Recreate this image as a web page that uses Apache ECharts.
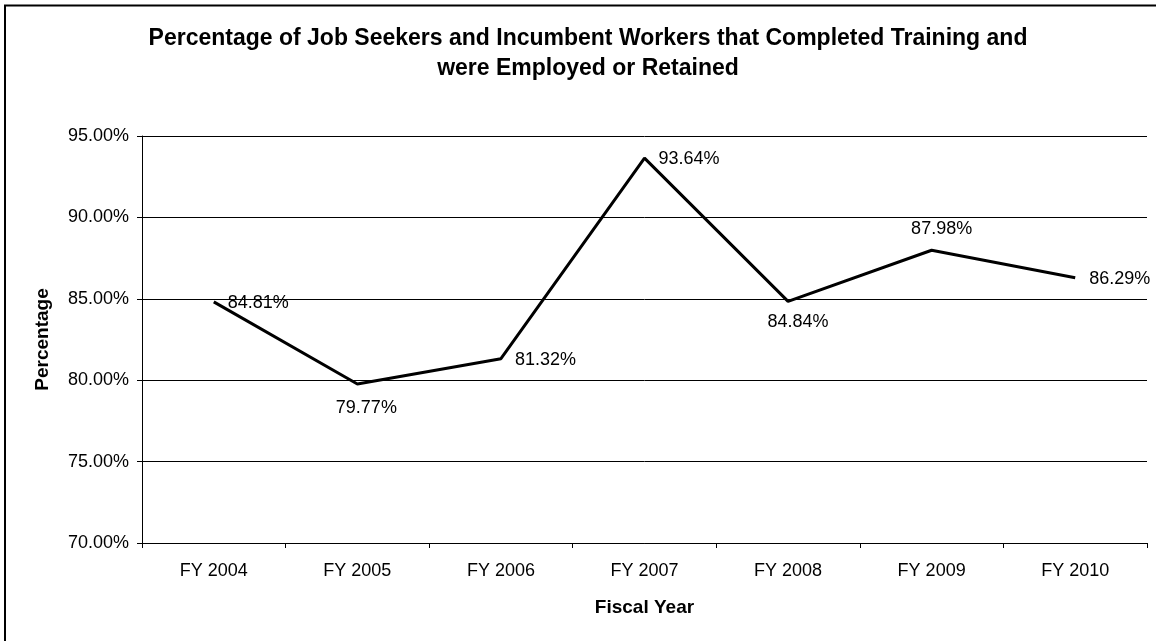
<!DOCTYPE html>
<html>
<head>
<meta charset="utf-8">
<script src="https://cdn.jsdelivr.net/npm/echarts@6/dist/echarts.min.js"></script>
<style>
html,body{margin:0;padding:0;background:#fff;}
#chart{width:1156px;height:641px;}
</style>
</head>
<body>
<div id="chart"></div>
<script>
const categories = ['FY 2004','FY 2005','FY 2006','FY 2007','FY 2008','FY 2009','FY 2010'];
const values = [84.81, 79.77, 81.32, 93.64, 84.84, 87.98, 86.29];
const labelPositions = ['right','bottom','right','right','bottom','top','right'];
const yTicks = {min: 70, max: 95, interval: 5};

const FONT = 'Liberation Sans, Arial, sans-serif';
const chart = echarts.init(document.getElementById('chart'));

const labelOffsets = {
  right: {distance: 14, offset: [0, 1]},
  bottom: {distance: 12, offset: [10, 0]},
  top: {distance: 12, offset: [10, 0]}
};

const data = values.map((v, i) => {
  const p = labelPositions[i];
  return {
    value: v,
    label: {position: p, distance: labelOffsets[p].distance, offset: labelOffsets[p].offset.slice()}
  };
});
data[1].label.offset = [9, 3];

chart.setOption({
  animation: false,
  backgroundColor: '#fff',
  title: {
    text: 'Percentage of Job Seekers and Incumbent Workers that Completed Training and\nwere Employed or Retained',
    left: 583,
    top: 19,
    textAlign: 'center',
    textStyle: {fontFamily: FONT, fontSize: 23, fontWeight: 'bold', color: '#000', lineHeight: 30}
  },
  graphic: [
    {type: 'line', shape: {x1: 4, y1: 5.5, x2: 1156, y2: 5.5}, style: {stroke: '#000', lineWidth: 2}},
    {type: 'line', shape: {x1: 5, y1: 5, x2: 5, y2: 641}, style: {stroke: '#000', lineWidth: 2}}
  ],
  grid: {left: 142, right: 9, top: 136, bottom: 98},
  xAxis: {
    type: 'category',
    data: categories,
    boundaryGap: true,
    name: 'Fiscal Year',
    nameLocation: 'middle',
    nameGap: 55,
    nameTextStyle: {fontFamily: FONT, fontSize: 19, fontWeight: 'bold', color: '#000'},
    axisLine: {lineStyle: {color: '#000', width: 1}},
    axisTick: {show: true, length: 5, lineStyle: {color: '#000'}},
    axisLabel: {fontFamily: FONT, fontSize: 18, color: '#000', margin: 19}
  },
  yAxis: {
    type: 'value',
    min: yTicks.min,
    max: yTicks.max,
    interval: yTicks.interval,
    name: 'Percentage',
    nameLocation: 'middle',
    nameGap: 90,
    nameTextStyle: {fontFamily: FONT, fontSize: 19, fontWeight: 'bold', color: '#000'},
    axisLine: {show: true, lineStyle: {color: '#000', width: 1}},
    axisTick: {show: true, length: 5, lineStyle: {color: '#000'}},
    axisLabel: {fontFamily: FONT, fontSize: 18, color: '#000', margin: 13,
      formatter: v => v.toFixed(2) + '%'},
    splitLine: {show: true, lineStyle: {color: '#000', width: 1}}
  },
  series: [{
    type: 'line',
    data: data,
    showSymbol: true,
    symbol: 'circle',
    symbolSize: 0,
    itemStyle: {color: 'rgba(0,0,0,0)'},
    lineStyle: {color: '#000', width: 3},
    label: {
      show: true,
      fontFamily: FONT, fontSize: 18, color: '#000',
      formatter: p => p.value.toFixed(2) + '%'
    }
  }]
});
</script>
</body>
</html>
